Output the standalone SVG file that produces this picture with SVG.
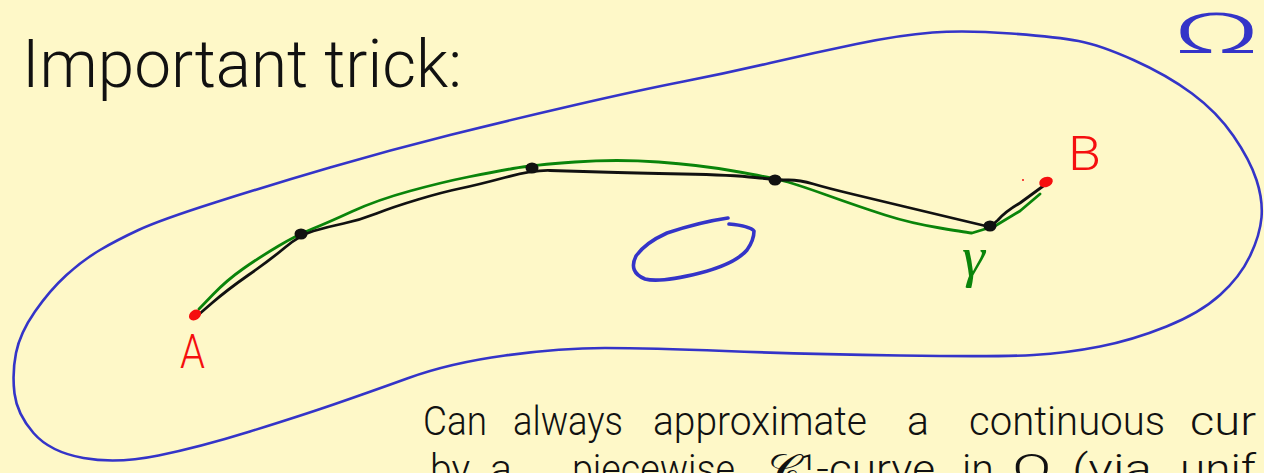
<svg xmlns="http://www.w3.org/2000/svg" width="1264" height="473" viewBox="0 0 1264 473">
<style>
.bg{fill:#fef8c8}
.blue{fill:none;stroke:#3434c8;stroke-width:2.6;stroke-linecap:round;stroke-linejoin:round}
.blue2{fill:none;stroke:#3434c8;stroke-width:3.6;stroke-linecap:round;stroke-linejoin:round}
.green{fill:none;stroke:#0a840a;stroke-width:2.8;stroke-linecap:round;stroke-linejoin:round}
.black{fill:none;stroke:#111;stroke-width:2.8;stroke-linecap:round;stroke-linejoin:round}
.dot{fill:#111}
.red{fill:#f50f0f}
.hand{font-family:Roboto,"Liberation Sans","DejaVu Sans",sans-serif;font-weight:300;fill:#111}
.l1{font-size:41px}
.lbl{font-family:Roboto,"Liberation Sans","DejaVu Sans",sans-serif;font-weight:300}
</style>
<rect class="bg" x="0" y="0" width="1264" height="473"/>
<g id="domain">
<path class="blue" d="M14.5,393.5 Q12,373 16,353 Q20,333 35,311.5 Q50,290 66.5,275 Q83,260 100,250 Q117,240 138.5,230 Q160,220 215,202.5 Q270,185 330,167.5 Q390,150 450,135 Q510,120 575,105 Q640,90 683.5,81.5 Q727,73 770,63 Q813,53 856.5,44 Q900,35 932.5,32.5 Q965,30 1011,33.5 Q1057,37 1078.5,41 Q1100,45 1133.5,60 Q1167,75 1192,93.5 Q1217,112 1233.5,136 Q1250,160 1256.5,180 Q1263,200 1261.5,217.5 Q1260,235 1250,256 Q1240,277 1220,295 Q1200,313 1166.5,326.5 Q1133,340 1100,346.5 Q1067,353 1033.5,355 Q1000,357 900,355.5 Q800,354 725,351 Q650,348 605,348 Q560,348 505,355.5 Q450,363 408.5,378 Q367,393 333.5,404.5 Q300,416 250,431.5 Q200,447 158.5,455.5 Q117,464 83.5,458 Q50,452 33.5,433 Q17,414 14.5,393.5 Z"/>
<path class="blue2" d="M728,218 Q700,222 667,233 Q645,243 636,256 Q628,272 645,279 Q660,283 700,273 Q735,264 747,250 Q754,240 754,231 Q750,226 729,224"/>
<text class="lbl" x="1172" y="53" font-size="56" fill="#3434c8" textLength="90" lengthAdjust="spacingAndGlyphs">Ω</text>
</g>
<g id="curves">
<path class="green" d="M199,309 L213,294.5 Q227,280 243.5,268.5 Q260,257 278.5,246 Q297,235 312,229 Q327,223 352,211.5 Q377,200 410,191 Q443,182 468,177 Q493,172 513,168.5 Q533,165 575,162 Q617,159 658.5,162 Q700,165 733.5,171 Q767,177 780,180 Q793,183 826.5,195 Q860,207 885,215 Q910,223 940,228 Q970,233 972,233 L995,226 L1020,211 L1040,194"/>
<path class="black" d="M197,316 L212,303 Q227,290 248.5,275 Q270,260 285,247.5 Q300,235 313.5,231 Q327,227 343.5,223.5 Q360,220 376.5,213.5 Q393,207 418,199.5 Q443,192 460,188.5 Q477,185 505,177.5 Q533,170 550,170.5 Q567,171 600,172 Q633,173 683,174 Q733,175 755,177.5 Q777,180 788.5,180 Q800,180 813.5,184 Q827,188 852,194 Q877,200 902,206 Q927,212 958.5,219.5 Q990,227 990,227 L998,220 Q1006,211 1020,203 L1046,184"/>
<ellipse class="dot" cx="301" cy="234" rx="6.5" ry="5.5"/>
<ellipse class="dot" cx="532" cy="168" rx="6.5" ry="5.5"/>
<ellipse class="dot" cx="775" cy="180" rx="6.5" ry="5.5"/>
<ellipse class="dot" cx="990" cy="226" rx="6.5" ry="5.5"/>
<text x="962" y="276" font-family="'Liberation Serif','DejaVu Serif',serif" font-size="58" font-style="italic" fill="#0a840a">γ</text>
</g>
<g id="pointA">
<ellipse class="red" cx="195" cy="315" rx="6.5" ry="5" transform="rotate(-35 195 315)"/>
<text class="lbl" x="180" y="368" font-size="48" fill="#f50f0f" textLength="25" lengthAdjust="spacingAndGlyphs">A</text>
</g>
<g id="pointB">
<ellipse class="red" cx="1046" cy="182" rx="7" ry="5" transform="rotate(-20 1046 182)"/>
<circle class="red" cx="1023" cy="180" r="1"/>
<text class="lbl" x="1068" y="170" font-size="48" fill="#f50f0f" textLength="33" lengthAdjust="spacingAndGlyphs">B</text>
</g>
<g id="text">
<text class="hand" x="22" y="87" font-size="66" textLength="440" lengthAdjust="spacingAndGlyphs">Important trick:</text>
<text class="hand l1" x="423" y="435" textLength="64" lengthAdjust="spacingAndGlyphs">Can</text>
<text class="hand l1" x="513" y="435" textLength="110" lengthAdjust="spacingAndGlyphs">always</text>
<text class="hand l1" x="653" y="435" textLength="214" lengthAdjust="spacingAndGlyphs">approximate</text>
<text class="hand l1" x="907" y="435">a</text>
<text class="hand l1" x="969" y="435" textLength="196" lengthAdjust="spacingAndGlyphs">continuous</text>
<text class="hand l1" x="1190" y="435" textLength="66" lengthAdjust="spacingAndGlyphs">cur</text>
<text class="hand l1" x="430" y="483" textLength="40" lengthAdjust="spacingAndGlyphs">by</text>
<text class="hand l1" x="490" y="483">a</text>
<text class="hand l1" x="572" y="483" textLength="163" lengthAdjust="spacingAndGlyphs">piecewise</text>
<text class="hand l1" x="768" y="483" textLength="167" lengthAdjust="spacingAndGlyphs">𝒞¹-curve</text>
<text class="hand l1" x="962" y="483">in</text>
<text class="hand l1" x="1012" y="483" textLength="40" lengthAdjust="spacingAndGlyphs">Ω</text>
<text class="hand l1" x="1072" y="483" textLength="80" lengthAdjust="spacingAndGlyphs">(via</text>
<text class="hand l1" x="1180" y="483" textLength="76" lengthAdjust="spacingAndGlyphs">unif</text>
</g>
</svg>
